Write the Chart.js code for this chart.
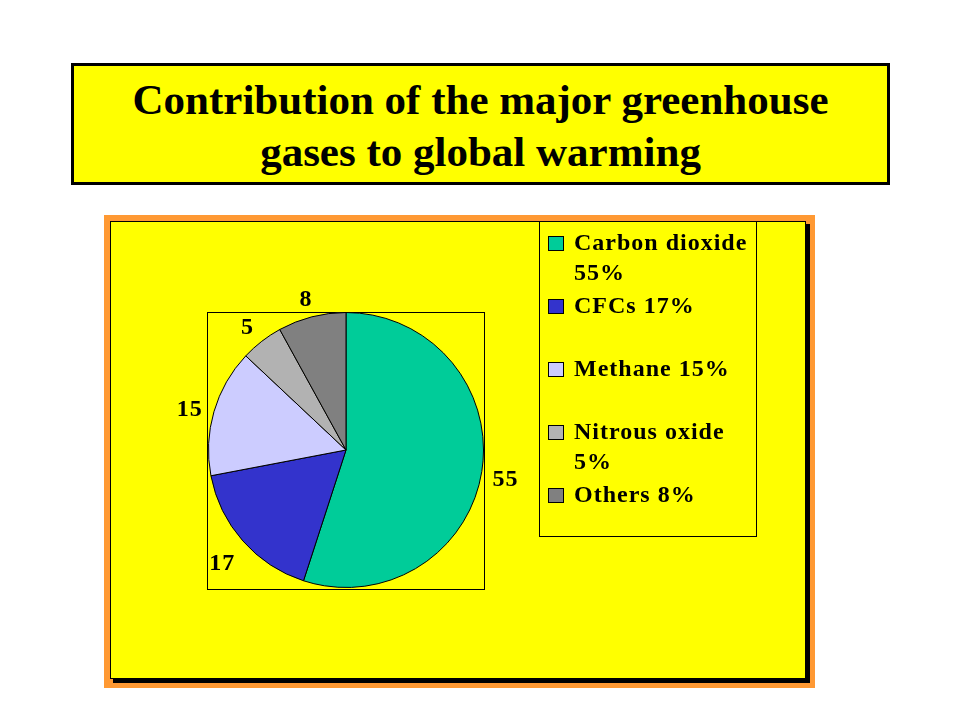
<!DOCTYPE html>
<html>
<head>
<meta charset="utf-8">
<title>Contribution of the major greenhouse gases to global warming</title>
<script src="https://cdn.jsdelivr.net/npm/chart.js@4.4.1/dist/chart.umd.min.js"></script>
<style>
    body { margin: 0; background: #ffffff; }
    #wrap { position: relative; width: 960px; height: 720px; overflow: hidden; }
    #chart { position: absolute; left: 0; top: 0; }
    #title {
        position: absolute;
        left: 71px;
        top: 63px;
        width: 813px;
        height: 108px;
        padding-top: 8px;
        border: 3px solid #000000;
        background: #ffff00;
        font-family: "Liberation Serif", "Times New Roman", serif;
        font-weight: bold;
        font-size: 43px;
        line-height: 52px;
        text-align: center;
        color: #000000;
    }
</style>
</head>
<body>
<div id="wrap">
    <canvas id="chart" width="960" height="720"></canvas>
    <div id="title">Contribution of the major greenhouse<br>gases to global warming</div>
</div>
<script>
// Data
const gases = ['Carbon dioxide', 'CFCs', 'Methane', 'Nitrous oxide', 'Others'];
const shares = [55, 17, 15, 5, 8];
const sliceColors = ['#00cc99', '#3333cc', '#ccccff', '#b2b2b2', '#808080'];

const serif = '"Liberation Serif", "Times New Roman", serif';

// Yellow panel with orange frame and dark shadow, plus the plot box
const framePlugin = {
    id: 'frame',
    beforeDraw: function (chart) {
        const ctx = chart.ctx;
        const area = chart.chartArea;
        ctx.save();
        ctx.fillStyle = '#ffffff';
        ctx.fillRect(0, 0, chart.width, chart.height);
        ctx.fillStyle = '#ff9933';
        ctx.fillRect(104, 215, 711, 473);
        ctx.fillStyle = '#000000';
        ctx.fillRect(113, 224, 697, 459);
        ctx.fillStyle = '#ffff00';
        ctx.fillRect(110, 221, 696, 458);
        ctx.strokeStyle = '#000000';
        ctx.lineWidth = 1;
        ctx.strokeRect(110.5, 221.5, 695, 457);
        // plot area box
        ctx.strokeRect(area.left - 0.5, area.top + 0.5, area.width + 1, area.height + 1);
        ctx.restore();
    }
};

// Values outside each slice
const sliceLabelPlugin = {
    id: 'sliceLabels',
    afterDatasetsDraw: function (chart) {
        const ctx = chart.ctx;
        const meta = chart.getDatasetMeta(0);
        ctx.save();
        ctx.font = 'bold 24px ' + serif;
        ctx.letterSpacing = '1px';
        ctx.fillStyle = '#000000';
        ctx.textAlign = 'center';
        ctx.textBaseline = 'middle';
        meta.data.forEach(function (arc, i) {
            const p = arc.getProps(['x', 'y', 'startAngle', 'endAngle', 'outerRadius'], true);
            const mid = (p.startAngle + p.endAngle) / 2;
            const text = String(shares[i]);
            const w = ctx.measureText(text).width;
            const cos = Math.cos(mid);
            const sin = Math.sin(mid);
            const d = p.outerRadius + 9 + (w / 2) * Math.abs(cos) + 13 * Math.abs(sin);
            ctx.fillText(text, p.x + d * cos, p.y + d * sin + 5);
        });
        ctx.restore();
    }
};

// Boxed legend on the right, wrapped like the original
const legendPlugin = {
    id: 'boxLegend',
    afterDraw: function (chart) {
        const ctx = chart.ctx;
        const box = { left: 539, top: 221, right: 756, bottom: 536 };
        ctx.save();
        ctx.strokeStyle = '#000000';
        ctx.lineWidth = 1;
        ctx.strokeRect(box.left + 0.5, box.top + 0.5, box.right - box.left, box.bottom - box.top);
        ctx.font = 'bold 24px ' + serif;
        ctx.letterSpacing = '1px';
        ctx.textBaseline = 'middle';
        ctx.textAlign = 'left';
        const textX = 574;
        const maxX = 754;
        gases.forEach(function (name, i) {
            const y = 243 + i * 63;
            const words = (name + ' ' + shares[i] + '%').split(' ');
            const lines = [];
            let line = '';
            words.forEach(function (word) {
                const test = line ? line + ' ' + word : word;
                if (line && textX + ctx.measureText(test).width > maxX) {
                    lines.push(line);
                    line = word;
                } else {
                    line = test;
                }
            });
            lines.push(line);

            ctx.fillStyle = sliceColors[i];
            ctx.fillRect(548, y - 7, 16, 15);
            ctx.strokeStyle = '#000000';
            ctx.strokeRect(548.5, y - 6.5, 15, 14);

            ctx.fillStyle = '#000000';
            lines.forEach(function (t, j) {
                ctx.fillText(t, textX, y + 1 + j * 30);
            });
        });
        ctx.restore();
    }
};

new Chart(document.getElementById('chart'), {
    type: 'pie',
    data: {
        labels: gases,
        datasets: [{
            data: shares,
            backgroundColor: sliceColors,
            borderColor: '#000000',
            borderWidth: 1
        }]
    },
    options: {
        responsive: false,
        devicePixelRatio: 1,
        animation: false,
        layout: {
            padding: { left: 208, right: 476, top: 312, bottom: 132 }
        },
        plugins: {
            legend: { display: false },
            tooltip: { enabled: false },
            title: { display: false }
        }
    },
    plugins: [framePlugin, sliceLabelPlugin, legendPlugin]
});
</script>
</body>
</html>
